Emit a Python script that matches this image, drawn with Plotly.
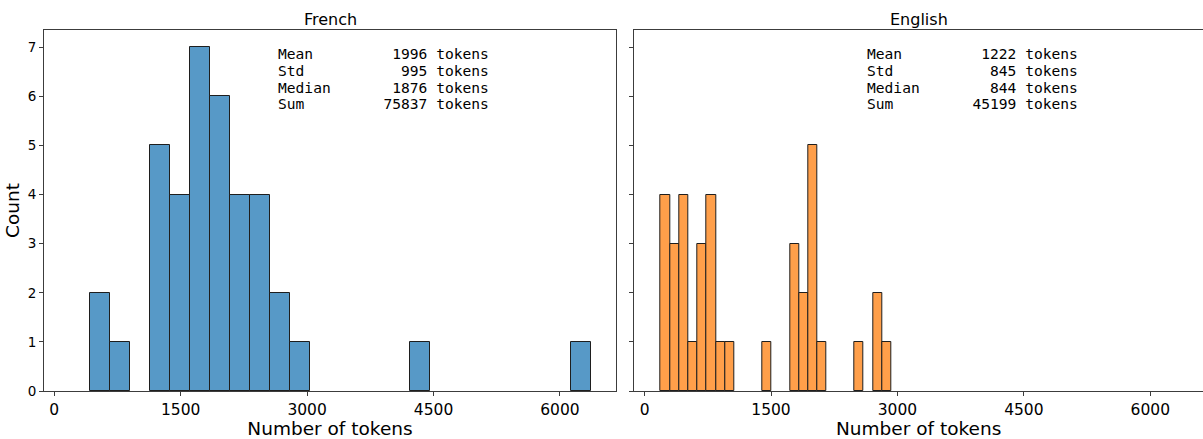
import plotly.graph_objects as go

# Histogram bins (left edge of first bin, bin width) and counts per bin
french_bin_start = 423.6
french_bin_width = 237.6
french_counts = [2, 1, 0, 5, 4, 7, 6, 4, 4, 2, 1, 0, 0, 0, 0, 0, 1, 0, 0, 0, 0, 0, 0, 0, 1]

english_bin_start = 190.7
english_bin_width = 109.45
english_counts = [4, 3, 4, 1, 3, 4, 1, 1, 0, 0, 0, 1, 0, 0, 3, 2, 5, 1, 0, 0, 0, 1, 0, 2, 1]

# Summary statistics shown in each panel
stat_names = ["Mean", "Std", "Median", "Sum"]
french_stats = [1996, 995, 1876, 75837]
english_stats = [1222, 845, 844, 45199]

panel_titles = ["French", "English"]
x_tick_vals = [0, 1500, 3000, 4500, 6000]
y_tick_vals = [0, 1, 2, 3, 4, 5, 6, 7]

W, H = 1203, 439
ML, MR, MT, MB = 44, 0, 30, 48
plot_w = W - ML - MR
left_dom = [0, 572 / plot_w]
right_dom = [(634.3 - ML) / plot_w, 1.0]

units_per_px = 11.865
x_left = -122
x_right_full = 6665
x_right_clip = x_left + (W - 634.3) * units_per_px

FILL = ["rgb(87,153,199)", "rgb(255,159,74)"]
EDGE = "rgb(30,30,30)"
AX = "rgb(60,60,60)"


def bar_trace(start, width, counts, color, xa, ya):
    xs, ys = [], []
    for i, c in enumerate(counts):
        if c > 0:
            xs.append(start + width * (i + 0.5))
            ys.append(c)
    return go.Bar(
        x=xs, y=ys, width=width, xaxis=xa, yaxis=ya,
        marker=dict(color=color, line=dict(color=EDGE, width=1)),
        showlegend=False,
    )


fig = go.Figure()
fig.add_trace(bar_trace(french_bin_start, french_bin_width, french_counts, FILL[0], "x", "y"))
fig.add_trace(bar_trace(english_bin_start, english_bin_width, english_counts, FILL[1], "x2", "y2"))

tickfont_x = dict(family="DejaVu Sans", size=15.5, color="black")
tickfont_y = dict(family="DejaVu Sans", size=13.5, color="black")

common_x = dict(
    tickvals=x_tick_vals, ticks="outside", ticklen=4, tickwidth=1, tickcolor=AX,
    showline=True, linecolor=AX, linewidth=1, showgrid=False, zeroline=False,
    tickfont=tickfont_x,
    title=dict(text="Number of tokens", font=dict(family="DejaVu Sans", size=18.5, color="black"), standoff=4),
)
common_y = dict(
    range=[0, 7.35], tickvals=y_tick_vals, ticks="outside", ticklen=4, tickwidth=1, tickcolor=AX,
    showline=True, linecolor=AX, linewidth=1, showgrid=False, zeroline=False,
    tickfont=tickfont_y,
)

fig.update_layout(
    width=W, height=H,
    margin=dict(l=ML, r=MR, t=MT, b=MB, pad=0),
    plot_bgcolor="white", paper_bgcolor="white",
    bargap=0,
    xaxis=dict(domain=left_dom, range=[x_left, x_right_full], mirror=True, anchor="y", **common_x),
    xaxis2=dict(domain=right_dom, range=[x_left, x_right_clip], mirror=True, anchor="y2", **common_x),
    yaxis=dict(domain=[0, 1], anchor="x", mirror=True,
               title=dict(text="Count", font=dict(family="DejaVu Sans", size=18.5, color="black"), standoff=3),
               **common_y),
    yaxis2=dict(domain=[0, 1], anchor="x2", matches="y", showticklabels=False, mirror=False, **common_y),
)

annotations = []
panel_info = [("x domain", "y domain", french_stats), ("x2 domain", "y2 domain", english_stats)]
for (xr, yr, stats), title in zip(panel_info, panel_titles):
    annotations.append(dict(
        text=title, xref=xr, yref="paper", x=0.5, y=1, yshift=11, yanchor="middle",
        showarrow=False, font=dict(family="DejaVu Sans", size=16, color="black"),
    ))
    for k, (name, val) in enumerate(zip(stat_names, stats)):
        line = f"{name:<8}{val:>9} tokens".replace(" ", "\u00a0")
        y_px = 53.5 + k * 16.75
        annotations.append(dict(
            text=line, xref=xr, yref=yr, x=0.405, xanchor="left",
            y=1 - (y_px - MT) / (H - MT - MB), yanchor="middle",
            showarrow=False, font=dict(family="DejaVu Sans Mono", size=14.6, color="black"),
        ))
fig.update_layout(annotations=annotations)

fig.write_html("out.html")
